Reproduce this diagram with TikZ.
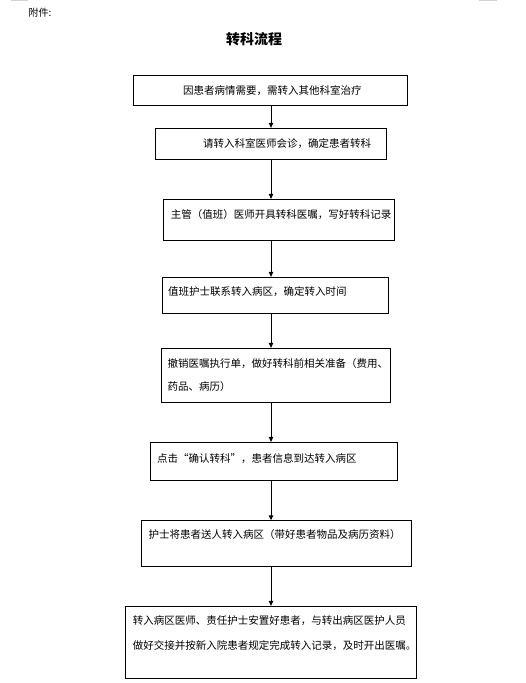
\documentclass[tikz,border=0pt]{standalone}
\usepackage{fontspec}
\newfontfamily\cjk{Noto Sans CJK SC}
\usetikzlibrary{arrows.meta, positioning}

\begin{document}
\begin{tikzpicture}[
    x=1pt, y=-1pt,
    box/.style={rectangle, draw=black, line width=0.9pt, inner sep=0pt},
    txt/.style={anchor=west, inner sep=0pt, align=left, font=\cjk\fontsize{10.5}{23.4}\selectfont},
    flow/.style={-{Triangle[length=5pt, width=4.5pt]}, line width=0.9pt}
]

\useasboundingbox[fill=white] (0,0) rectangle (526,683);

% Page corner marks
\draw[gray!35, line width=1.5pt] (11,0.6) -- (28,0.6);
\draw[gray!35, line width=1.5pt] (479,0.6) -- (497,0.6);

% Header
\node[txt, font=\cjk\fontsize{10}{12}\selectfont] (att) at (28.3,12.7) {附件:};
\node[inner sep=0pt, font=\cjk\bfseries\fontsize{14}{16}\selectfont] (title) at (254.2,39.3) {转科流程};

% Boxes
\node[box, minimum width=274pt, minimum height=29.7pt] (b1) at (270.3,90.2) {};
\node[box, minimum width=231pt, minimum height=31pt] (b2) at (270.8,143.8) {};
\node[box, minimum width=231pt, minimum height=40.7pt] (b3) at (278.8,219.7) {};
\node[box, minimum width=226pt, minimum height=36pt] (b4) at (275.3,295.3) {};
\node[box, minimum width=229pt, minimum height=54pt] (b5) at (275.8,375.3) {};
\node[box, minimum width=247pt, minimum height=37.7pt] (b6) at (273.8,461.2) {};
\node[box, minimum width=270.4pt, minimum height=45.3pt] (b7) at (276.5,543.4) {};
\node[box, minimum width=291pt, minimum height=72pt] (b8) at (270.8,642.3) {};

% Box texts
\node[txt] (t1) at (183,90.6) {因患者病情需要，需转入其他科室治疗};
\node[txt] (t2) at (203,144) {请转入科室医师会诊，确定患者转科};
\node[txt] (t3) at (170.7,215) {主管（值班）医师开具转科医嘱，写好转科记录};
\node[txt] (t4) at (168,291.7) {值班护士联系转入病区，确定转入时间};
\node[txt] (t5) at (167.3,375) {撤销医嘱执行单，做好转科前相关准备（费用、\\药品、病历）};
\node[txt] (t6) at (157,458.3) {点击“确认转科”，患者信息到达转入病区};
\node[txt] (t7) at (148.3,534.3) {护士将患者送人转入病区（带好患者物品及病历资料）};
\node[txt, font=\cjk\fontsize{10.5}{24.6}\selectfont] (t8) at (132.7,633) {转入病区医师、责任护士安置好患者，与转出病区医护人员\\做好交接并按新入院患者规定完成转入记录，及时开出医嘱。};

% Arrows
\coordinate (ax) at (271,0);
\foreach \a/\b in {b1/b2, b2/b3, b3/b4, b4/b5, b5/b6, b6/b7, b7/b8}
    \draw[flow] (\a.south -| ax) -- (\b.north -| ax);

\end{tikzpicture}
\end{document}
